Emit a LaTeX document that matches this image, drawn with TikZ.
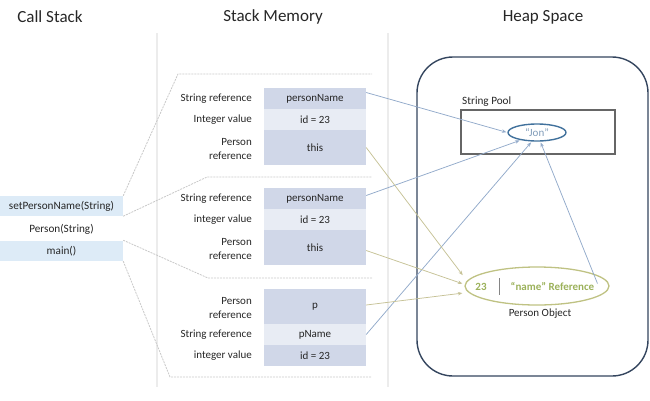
\documentclass[tikz,border=0pt]{standalone}
\usepackage{fontspec}
\setmainfont{Carlito}
\usetikzlibrary{arrows.meta,shapes.geometric}
\definecolor{csblue}{HTML}{DDEBF7}
\definecolor{dkcell}{HTML}{D0D7E8}
\definecolor{ltcell}{HTML}{E8ECF4}
\definecolor{bluearr}{HTML}{92AACA}
\definecolor{olarr}{HTML}{C6C296}
\definecolor{framegray}{HTML}{C8C8C8}
\definecolor{divgray}{HTML}{ECECEC}
\definecolor{heapline}{HTML}{34455E}
\definecolor{poolline}{HTML}{666666}
\definecolor{jonline}{HTML}{41719C}
\definecolor{jontext}{HTML}{7F9BB8}
\definecolor{perline}{HTML}{BFC283}
\definecolor{pertext}{HTML}{9BB15A}
\definecolor{txt}{HTML}{262626}
\tikzset{
  hdr/.style={font=\fontsize{17}{20}\selectfont, text=txt},
  csbox/.style={minimum width=123pt, minimum height=20pt, inner sep=0pt, font=\fontsize{11.2}{13}\selectfont, text=txt},
  cell/.style={minimum width=102pt, inner sep=0pt, font=\fontsize{11}{13}\selectfont, text=txt},
  short/.style={cell, minimum height=21pt},
  tall/.style={cell, minimum height=35pt},
  lbl/.style={anchor=east, align=right, inner sep=0pt, font=\fontsize{11}{14}\selectfont, text=txt},
  frameline/.style={draw=framegray, line width=0.8pt, dash pattern=on 2pt off 1pt},
  arr/.style={-{Stealth[length=4.5pt,width=3.5pt]}, line width=0.75pt, shorten >=1pt},
  barr/.style={arr, draw=bluearr},
  oarr/.style={arr, draw=olarr},
}
\begin{document}
\begin{tikzpicture}[x=1pt,y=-1pt]
\useasboundingbox (0,0) rectangle (650,400);
% headers
\node[hdr] (h1) at (50,17) {Call Stack};
\node[hdr] (h2) at (273,17) {Stack Memory};
\node[hdr] (h3) at (543,17) {Heap Space};
% dividers
\draw[divgray, line width=1.2pt] (157,33) -- (157,387);
\draw[divgray, line width=1.2pt] (388,33) -- (388,387);
% call stack
\node[csbox, fill=csblue] (cs1) at (61.5,206) {setPersonName(String)};
\node[csbox] (cs2) at (61.5,229) {Person(String)};
\node[csbox, fill=csblue] (cs3) at (61.5,251) {main()};
% frame corners
\coordinate (f1a) at (178,74);  \coordinate (f1b) at (372,74);
\coordinate (f2a) at (207,177); \coordinate (f2b) at (372,177);
\coordinate (f3a) at (208,278); \coordinate (f3b) at (372,278);
\coordinate (f4a) at (170,377); \coordinate (f4b) at (372,377);
\draw[frameline] (cs1.north east) -- (f1a) -- (f1b);
\draw[frameline] (cs1.south east) -- (f2a) -- (f2b);
\draw[frameline] ([yshift=-1pt]cs2.south east) -- (f3a) -- (f3b);
\draw[frameline] (cs3.south east) -- (f4a) -- (f4b);
% block 1
\node[short, fill=dkcell] (pn1) at (315,98.5) {personName};
\node[short, fill=ltcell] (id1) at (315,119.5) {id = 23};
\node[tall, fill=dkcell] (th1) at (315,147.5) {this};
\node[lbl] (l11) at (252,98.5) {String reference};
\node[lbl] (l12) at (252,119.5) {Integer value};
\node[lbl] (l13) at (252,149) {Person\\reference};
% block 2
\node[short, fill=dkcell] (pn2) at (315,198.5) {personName};
\node[short, fill=ltcell] (id2) at (315,219.5) {id = 23};
\node[tall, fill=dkcell] (th2) at (315,247.5) {this};
\node[lbl] (l21) at (252,198.5) {String reference};
\node[lbl] (l22) at (252,219.5) {integer value};
\node[lbl] (l23) at (252,249) {Person\\reference};
% block 3
\node[tall, fill=dkcell] (pp) at (315,306.5) {p};
\node[short, fill=ltcell] (pnm) at (315,334.5) {pName};
\node[short, fill=dkcell] (id3) at (315,355.5) {id = 23};
\node[lbl] (l31) at (252,308) {Person\\reference};
\node[lbl] (l32) at (252,334.5) {String reference};
\node[lbl] (l33) at (252,355.5) {integer value};
% heap
\draw[heapline, line width=1.4pt, rounded corners=36pt] (417,57) rectangle (648,376);
\draw[poolline, line width=1.1pt] (461,110) rectangle (615,154);
\node[anchor=south west, inner sep=0pt, font=\fontsize{11.2}{13}\selectfont, text=txt] (spl) at (462,107) {String Pool};
\node[ellipse, draw=jonline, line width=1.4pt, minimum width=58pt, minimum height=17pt, inner sep=0pt, text=jontext, font=\fontsize{11}{13}\selectfont] (jon) at (537,132.5) {“Jon”};
\node[ellipse, draw=perline, line width=1.3pt, minimum width=144pt, minimum height=38pt, inner sep=0pt] (per) at (537,286) {};
\node[inner sep=0pt, text=pertext, font=\bfseries\fontsize{11}{13}\selectfont] (n23) at (481,286.5) {23};
\draw[poolline!80, line width=0.9pt] (499,278) -- (499,295);
\node[inner sep=0pt, text=pertext, font=\bfseries\fontsize{11}{13}\selectfont] (ref) at (552.5,286.5) {“name” Reference};
\node[inner sep=0pt, text=txt, font=\fontsize{11}{13}\selectfont] (pob) at (540,314) {Person Object};
% arrows
\draw[barr] ([yshift=6pt]pn1.east) -- (jon.west);
\draw[barr] ([yshift=3pt]pn2.east) -- (jon.205);
\draw[barr] (pnm.east) -- (jon.240);
\draw[barr] ([xshift=3pt,yshift=3pt]ref.east) -- (jon.-70);
\draw[oarr] (th1.east) -- ([xshift=-1pt,yshift=10pt]per.west);
\draw[oarr] ([yshift=-3pt]th2.east) -- ([xshift=-1pt,yshift=2pt]per.west);
\draw[oarr] ([yshift=1.5pt]pp.east) -- ([xshift=-1pt,yshift=-7pt]per.west);
\end{tikzpicture}
\end{document}
